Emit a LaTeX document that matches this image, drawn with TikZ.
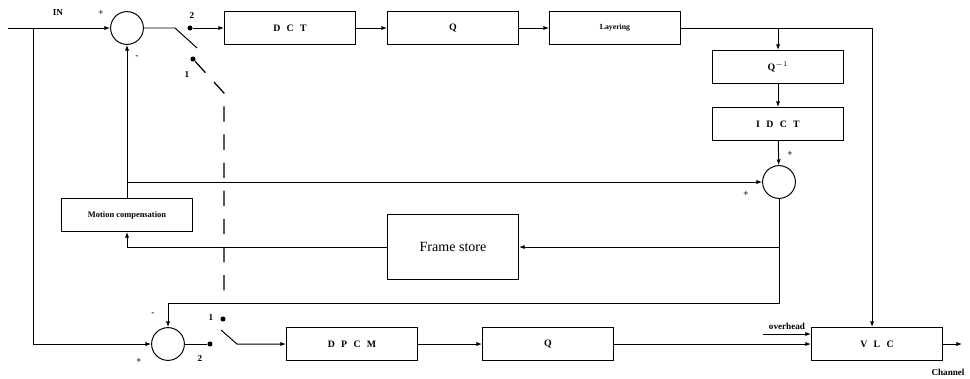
\documentclass[tikz,border=0pt]{standalone}
\usepackage{fontspec}
\setmainfont{Liberation Serif}
\usetikzlibrary{arrows.meta,calc}
\newcommand{\lgap}{\hspace{4.5pt}}

\begin{document}
\begin{tikzpicture}[
    x=0.025cm, y=-0.025cm,
    font=\fontsize{7}{8}\selectfont\bfseries,
    line width=0.7pt,
    box/.style={draw, align=center, inner sep=1pt,
                minimum width=3.275cm, minimum height=0.825cm},
    sum/.style={draw, circle, inner sep=0pt, minimum size=0.82cm},
    pin/.style={circle, fill, inner sep=0pt, minimum size=3.6pt},
    arr/.style={-{Latex[length=4pt,width=3pt]}},
    lbl/.style={font=\fontsize{6.5}{7}\selectfont\bfseries, inner sep=1pt},
    link/.style={line width=0.9pt, dash pattern=on 11pt off 9pt},
]
\useasboundingbox (0,0) rectangle (970,378);

%% ── Blocks ───────────────────────────────────────────────────────────────────
\node[sum]  (s1)   at (127, 28) {};
\node[box]  (dct)  at (290, 28) {D\lgap C\lgap T};
\node[box]  (q1)   at (453, 28) {Q};
\node[box, font=\fontsize{5.5}{6}\selectfont\bfseries]
            (lay)  at (615, 28) {Layering};
\node[box]  (qinv) at (778, 67) {Q$^{-1}$};
\node[box]  (idct) at (778,124) {I\lgap D\lgap C\lgap T};
\node[sum]  (s2)   at (779,182) {};
\node[box, font=\fontsize{6}{7}\selectfont\bfseries]
            (mc)   at (127,215) {Motion compensation};
\node[box, minimum height=1.625cm, font=\fontsize{10}{12}\selectfont\mdseries]
            (fs)   at (453,247) {Frame store};
\node[sum]  (s3)   at (168,344) {};
\node[box]  (dpcm) at (352,344) {D\lgap P\lgap C\lgap M};
\node[box]  (q2)   at (548,344) {Q};
\node[box]  (vlc)  at (877,344) {V\lgap L\lgap C};

%% ── Switch contacts ──────────────────────────────────────────────────────────
\node[pin] (a2) at (190, 28) {};
\node[pin] (a1) at (193, 59) {};
\node[pin] (b2) at (210,344) {};
\node[pin] (b1) at (223,319) {};

%% ── Helper points ────────────────────────────────────────────────────────────
\coordinate (in)    at (  8, 28);
\coordinate (tap)   at ( 33, 28);
\coordinate (pivA)  at (175, 28);
\coordinate (armA)  at (197, 48);
\coordinate (armB0) at (221,330);
\coordinate (armB1) at (237,344);
\coordinate (linkA) at (224, 93);
\coordinate (linkB) at (224,303);
\coordinate (rail)  at (872, 28);
\coordinate (ovh)   at (763,334);
\coordinate (chan)  at (962,344);

%% ── Forward path (top) ───────────────────────────────────────────────────────
\draw[arr] (in) -- (s1.west);
\draw (s1.east) -- (pivA) -- (armA);
\draw[arr] (a2) -- (dct.west);
\draw[arr] (dct) -- (q1);
\draw[arr] (q1) -- (lay);
\draw[arr] (lay.east) -- (rail) -- (rail |- vlc.north);

%% ── Local decoder loop ───────────────────────────────────────────────────────
\draw[arr] (qinv.north |- lay.east) -- (qinv.north);
\draw[arr] (qinv) -- (idct);
\draw[arr] (idct) -- (s2);
\draw[arr] (mc.north) -- (s1.south);
\draw[arr] (mc.north |- s2.west) -- (s2.west);
\draw[arr] (s2.south) -- (s2.south |- fs.east) -- (fs.east);
\draw[arr] (fs.west) -- (mc.south |- fs.west) -- (mc.south);
\draw[arr] (s2.south |- fs.east) -- (s2.south |- linkB)
    -- (s3.north |- linkB) -- (s3.north);

%% ── DPCM path (bottom) ───────────────────────────────────────────────────────
\draw[arr] (tap) -- (tap |- s3.west) -- (s3.west);
\draw (s3.east) -- (b2);
\draw[arr] (armB0) -- (armB1) -- (dpcm.west);
\draw[arr] (dpcm) -- (q2);
\draw[arr] (q2) -- (vlc);
\draw[arr] (ovh) -- node[lbl, above, yshift=2pt] (ovhLbl) {overhead} (ovh -| vlc.west);
\draw[arr] (vlc.east) -- (chan);

%% ── Ganged switch linkage (dashed) ───────────────────────────────────────────
\draw[link] (a1) -- (linkA) -- (linkB);

%% ── Signs and labels ─────────────────────────────────────────────────────────
\node[lbl] (inLbl)  at ( 58, 13) {IN};
\node[lbl] (p1)     at (101, 13) {+};
\node[lbl] (m1)     at (137, 57) {-};
\node[lbl] (n2a)    at (192, 15) {2};
\node[lbl] (n1a)    at (187, 74) {1};
\node[lbl] (p2)     at (790,154) {+};
\node[lbl] (p3)     at (746,194) {+};
\node[lbl] (m3)     at (153,314) {-};
\node[lbl] (p4)     at (139,361) {+};
\node[lbl] (n2b)    at (200,358) {2};
\node[lbl] (n1b)    at (211,317) {1};
\node[lbl] (chLbl)  at (948,372) {Channel};

\end{tikzpicture}
\end{document}
